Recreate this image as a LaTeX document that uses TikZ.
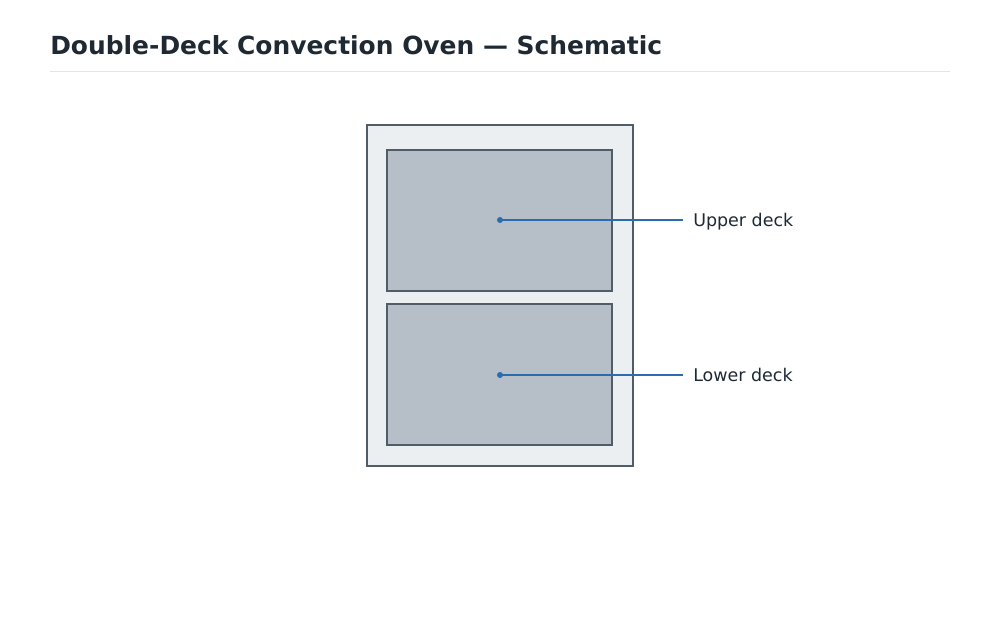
\documentclass[tikz,border=0pt]{standalone}
\usepackage{fontspec}
\setmainfont{DejaVu Sans}
\begin{document}
\begin{tikzpicture}[x=0.75pt,y=-0.75pt,
  box/.style={draw=frame,line width=1.5pt},
  lead/.style={draw=lblue,line width=1pt},
  dot/.style={circle,fill=lblue,inner sep=0pt,minimum size=4.5pt},
  lbl/.style={anchor=west,font=\fontsize{13.1}{15}\selectfont,text=ink,inner sep=0pt}]
\definecolor{frame}{HTML}{515C69}
\definecolor{ink}{HTML}{1F2933}
\definecolor{lblue}{HTML}{2B6CB0}
\definecolor{outerf}{HTML}{ECEFF2}
\definecolor{deckf}{HTML}{B6BEC8}
\definecolor{rulec}{HTML}{E3E6EA}
\useasboundingbox (0,0) rectangle (1000,634);
\fill[white] (0,0) rectangle (1000,634);
\node[anchor=base west,inner sep=0pt,font=\bfseries\fontsize{18.7}{21}\selectfont,text=ink] (title) at (50,55) {Double-Deck Convection Oven — Schematic};
\draw[rulec,line width=1pt] (50,71.5) coordinate (r1) -- (950,71.5) coordinate (r2);
\draw[box,fill=outerf] (367,125) rectangle (633,466);
\draw[box,fill=deckf] (387,150) rectangle (612,291);
\draw[box,fill=deckf] (387,304) rectangle (612,445);
\node[dot] (d1) at (500,220) {};
\node[dot] (d2) at (500,375) {};
\node[lbl] (l1) at (693,221.5) {Upper deck};
\node[lbl] (l2) at (693,375) {Lower deck};
\coordinate (e1) at (683,220);
\coordinate (e2) at (683,375);
\draw[lead] (d1.center) -- (e1);
\draw[lead] (d2.center) -- (e2);
\end{tikzpicture}
\end{document}
